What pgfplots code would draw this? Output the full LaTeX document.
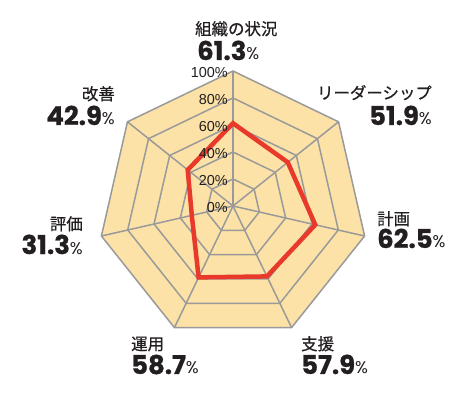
\documentclass[border=0pt]{standalone}
\usepackage{pgfplots}
\pgfplotsset{compat=1.18}
\usepackage{fontspec}
\setmainfont{Liberation Sans}
\newfontfamily\cjk[FakeBold=0.6]{Noto Sans CJK JP}
\newfontfamily\numfont[FakeBold=0.8]{Poppins}
\newfontfamily\pctfont{Poppins}
\definecolor{fillc}{HTML}{FCE2A6}
\definecolor{gridc}{HTML}{9A9A9A}
\definecolor{redc}{HTML}{E8392A}
\definecolor{txt}{HTML}{231F20}
\newcommand{\cat}[1]{{\cjk\fontsize{16.5}{16.5}\selectfont #1}}
\newcommand{\pct}[1]{{\numfont\bfseries\fontsize{26}{26}\selectfont #1}{\pctfont\fontsize{17}{17}\selectfont\%}}
\begin{document}
\begin{tikzpicture}
\begin{axis}[
  x=1.35bp, y=1.35bp,
  xmin=-172.59, xmax=171.11, ymin=-141.48, ymax=152.59,
  hide axis, clip=false,
  every axis plot/.append style={data cs=polar},
]
% outer filled ring
\addplot[draw=gridc, line width=1.5bp, fill=fillc] coordinates {(90,100) (38.5714,100) (-12.8571,100) (-64.2857,100) (-115.7143,100) (-167.1429,100) (141.4286,100)} -- cycle;
\addplot[draw=gridc, line width=1.5bp] coordinates {(90,80) (38.5714,80) (-12.8571,80) (-64.2857,80) (-115.7143,80) (-167.1429,80) (141.4286,80)} -- cycle;
\addplot[draw=gridc, line width=1.5bp] coordinates {(90,60) (38.5714,60) (-12.8571,60) (-64.2857,60) (-115.7143,60) (-167.1429,60) (141.4286,60)} -- cycle;
\addplot[draw=gridc, line width=1.5bp] coordinates {(90,40) (38.5714,40) (-12.8571,40) (-64.2857,40) (-115.7143,40) (-167.1429,40) (141.4286,40)} -- cycle;
\addplot[draw=gridc, line width=1.5bp] coordinates {(90,20) (38.5714,20) (-12.8571,20) (-64.2857,20) (-115.7143,20) (-167.1429,20) (141.4286,20)} -- cycle;
% spokes
\addplot[draw=gridc, line width=1.5bp] coordinates {(90,0) (90,100)};
\addplot[draw=gridc, line width=1.5bp] coordinates {(38.5714,0) (38.5714,100)};
\addplot[draw=gridc, line width=1.5bp] coordinates {(-12.8571,0) (-12.8571,100)};
\addplot[draw=gridc, line width=1.5bp] coordinates {(-64.2857,0) (-64.2857,100)};
\addplot[draw=gridc, line width=1.5bp] coordinates {(-115.7143,0) (-115.7143,100)};
\addplot[draw=gridc, line width=1.5bp] coordinates {(-167.1429,0) (-167.1429,100)};
\addplot[draw=gridc, line width=1.5bp] coordinates {(141.4286,0) (141.4286,100)};
% data
\addplot[draw=redc, line width=4.5bp, line join=miter] coordinates {(90,61.3) (38.5714,51.9) (-12.8571,62.5) (-64.2857,57.9) (-115.7143,58.7) (-167.1429,31.3) (141.4286,42.9)} -- cycle;
% bounding box
\draw[draw=none] (rel axis cs:0,0) rectangle (rel axis cs:1,1);
% tick labels
\foreach \v in {0,20,40,60,80,100}{
  \edef\tmp{\noexpand\node[anchor=east, inner sep=0pt, text=txt, font=\noexpand\fontsize{14.5}{14.5}\noexpand\selectfont] at (axis cs:-3.7,\v-0.8) {\v\noexpand\%};}
  \tmp
}
% category labels
\node[anchor=base west, inner sep=0pt, text=txt] at (axis cs:-28.15,126.7) {\cat{組織の状況}};
\node[anchor=base west, inner sep=0pt, text=txt] at (axis cs:-26.67,108.15) {\pct{61.3}};
\node[anchor=base east, inner sep=0pt, text=txt] at (axis cs:147.41,79.26) {\cat{リーダーシップ}};
\node[anchor=base east, inner sep=0pt, text=txt] at (axis cs:147.41,60.0) {\pct{51.9}};
\node[anchor=base west, inner sep=0pt, text=txt] at (axis cs:106.67,-14.07) {\cat{計画}};
\node[anchor=base west, inner sep=0pt, text=txt] at (axis cs:106.67,-31.11) {\pct{62.5}};
\node[anchor=base west, inner sep=0pt, text=txt] at (axis cs:50.37,-106.67) {\cat{支援}};
\node[anchor=base west, inner sep=0pt, text=txt] at (axis cs:50.37,-124.44) {\pct{57.9}};
\node[anchor=base west, inner sep=0pt, text=txt] at (axis cs:-75.56,-106.67) {\cat{運用}};
\node[anchor=base west, inner sep=0pt, text=txt] at (axis cs:-75.56,-124.44) {\pct{58.7}};
\node[anchor=base east, inner sep=0pt, text=txt] at (axis cs:-111.11,-17.78) {\cat{評価}};
\node[anchor=base east, inner sep=0pt, text=txt] at (axis cs:-111.11,-35.56) {\pct{31.3}};
\node[anchor=base east, inner sep=0pt, text=txt] at (axis cs:-87.41,78.52) {\cat{改善}};
\node[anchor=base east, inner sep=0pt, text=txt] at (axis cs:-87.41,60.0) {\pct{42.9}};
\end{axis}
\end{tikzpicture}
\end{document}
